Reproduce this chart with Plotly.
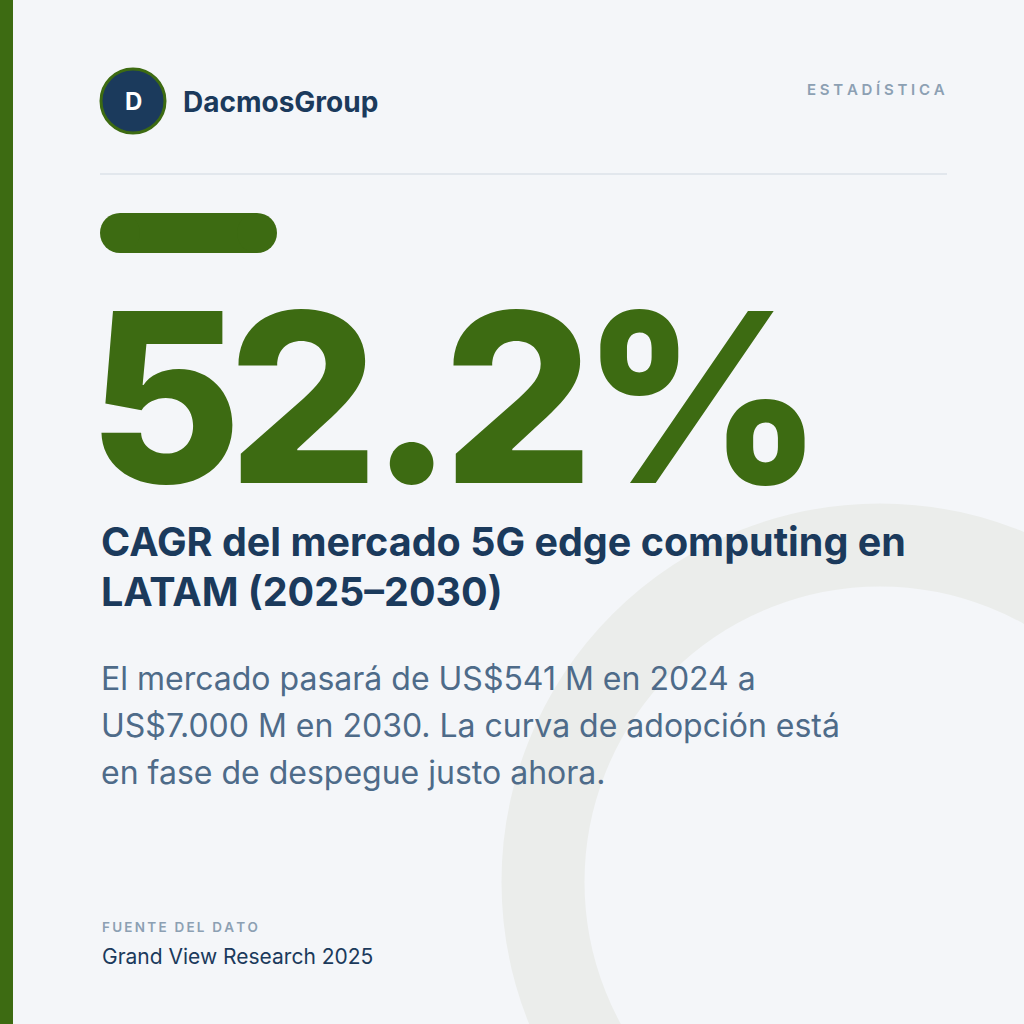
import plotly.graph_objects as go

# Contenido de la tarjeta
brand_name = "DacmosGroup"
brand_initial = "D"
tag_label = "ESTADÍSTICA"
cagr_value = 52.2
period_years = [2025, 2030]
market_years = [2024, 2030]
market_values_musd = [541, 7000]
source_label = "FUENTE DEL DATO"
source_name = "Grand View Research 2025"

headline_lines = [
    "CAGR del mercado 5G edge computing en",
    f"LATAM ({period_years[0]}\u2013{period_years[1]})",
]


def fmt_musd(v):
    return "US$" + f"{v:,}".replace(",", ".") + " M"


body_lines = [
    f"El mercado pasará de {fmt_musd(market_values_musd[0])} en {market_years[0]} a",
    f"{fmt_musd(market_values_musd[1])} en {market_years[1]}. La curva de adopción está",
    "en fase de despegue justo ahora.",
]

# colores
BG = "#F4F6F9"
GREEN = "#3D6B12"
NAVY = "#1B3A5C"
SLATE = "#4E6B89"
MUTED = "#8CA0B3"
RING = "#EBEDEB"
RULE = "#DDE2E8"

FONT = "Inter"


def spaced(s, sep="\u2009\u200a"):
    return sep.join(list(s))


fig = go.Figure()
fig.add_trace(go.Scatter(x=[0], y=[0], mode="markers", marker=dict(opacity=0),
                         hoverinfo="skip", showlegend=False))

shapes = []
# anillo decorativo
shapes.append(dict(type="circle", xref="x", yref="y", x0=880 - 337, x1=880 + 337,
                   y0=882 - 337, y1=882 + 337, line=dict(color=RING, width=83),
                   fillcolor="rgba(0,0,0,0)", layer="below"))
# barra lateral
shapes.append(dict(type="rect", xref="x", yref="y", x0=0, x1=13, y0=0, y1=1024,
                   fillcolor=GREEN, line=dict(width=0), layer="below"))
# logo
shapes.append(dict(type="circle", xref="x", yref="y", x0=101, x1=165, y0=69, y1=133,
                   fillcolor=NAVY, line=dict(color=GREEN, width=3), layer="below"))
# separador
shapes.append(dict(type="line", xref="x", yref="y", x0=100, x1=947, y0=174, y1=174,
                   line=dict(color=RULE, width=1.5), layer="below"))
# pastilla verde
shapes.append(dict(type="rect", xref="x", yref="y", x0=120, x1=257, y0=213, y1=253,
                   fillcolor=GREEN, line=dict(width=0), layer="below"))
for cx in (120, 257):
    shapes.append(dict(type="circle", xref="x", yref="y", x0=cx - 20, x1=cx + 20,
                       y0=213, y1=253, fillcolor=GREEN, line=dict(width=0), layer="below"))

ann = []


def text(x, y, s, size, color, weight=400, xanchor="left"):
    ann.append(dict(x=x, y=y, xref="x", yref="y", text=s, showarrow=False,
                    xanchor=xanchor, yanchor="middle", align=xanchor,
                    font=dict(family=FONT, size=size, color=color, weight=weight)))


text(133, 101, brand_initial, 24, "white", 700, "center")
text(181, 102, brand_name, 28, NAVY, 700)
text(805, 89, spaced(tag_label), 15, MUTED, 600)

# cifra grande, glifo por glifo para ajustar el espaciado
big = f"{cagr_value}%"
big_centers = [165, 303, 411, 518, 702]
for ch, cx in zip(big, big_centers):
    text(cx, 397, ch, 236, GREEN, 800, "center")

for i, line in enumerate(headline_lines):
    text(99, 542 + i * 50, line, 39.5, NAVY, 700)

for i, line in enumerate(body_lines):
    text(99, 678 + i * 47, line, 32, SLATE, 400)

text(100, 927, spaced(source_label, "\u2009"), 13.5, MUTED, 600)
text(100, 956, source_name, 21, NAVY, 400)

fig.update_layout(
    width=1024, height=1024,
    margin=dict(l=0, r=0, t=0, b=0),
    paper_bgcolor=BG, plot_bgcolor=BG,
    xaxis=dict(range=[0, 1024], visible=False, fixedrange=True),
    yaxis=dict(range=[1024, 0], visible=False, fixedrange=True),
    shapes=shapes, annotations=ann, showlegend=False,
)

page_fix = "document.body.style.margin = '0';"

fig.write_html("out.html", config={"displayModeBar": False}, post_script=page_fix)
